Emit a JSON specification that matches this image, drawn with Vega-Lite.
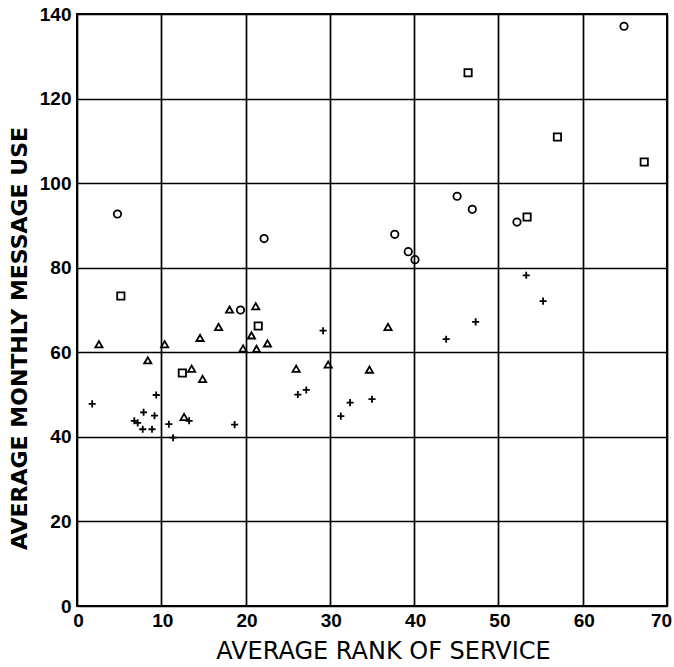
{
  "$schema": "https://vega.github.io/schema/vega-lite/v6.json",
  "width": 590,
  "height": 592,
  "autosize": {"type": "none"},
  "padding": {"left": 77, "top": 14, "right": 7, "bottom": 61},
  "background": "white",
  "config": {
    "view": {"stroke": "black", "strokeWidth": 2},
    "axis": {
      "gridColor": "black",
      "gridWidth": 1.7,
      "gridOpacity": 1,
      "ticks": false,
      "domain": false,
      "labelColor": "black",
      "titleColor": "black"
    }
  },
  "data": {
    "values": [
      {"rank": 4.8, "use": 92.7, "type": "circle"},
      {"rank": 22.2, "use": 86.9, "type": "circle"},
      {"rank": 19.4, "use": 70.0, "type": "circle"},
      {"rank": 37.7, "use": 87.9, "type": "circle"},
      {"rank": 39.3, "use": 83.8, "type": "circle"},
      {"rank": 40.1, "use": 81.9, "type": "circle"},
      {"rank": 45.1, "use": 96.9, "type": "circle"},
      {"rank": 46.9, "use": 93.8, "type": "circle"},
      {"rank": 52.2, "use": 90.8, "type": "circle"},
      {"rank": 64.9, "use": 137.1, "type": "circle"},
      {"rank": 5.2, "use": 73.3, "type": "square"},
      {"rank": 12.5, "use": 55.1, "type": "square"},
      {"rank": 21.5, "use": 66.2, "type": "square"},
      {"rank": 46.4, "use": 126.1, "type": "square"},
      {"rank": 53.4, "use": 92.0, "type": "square"},
      {"rank": 57.0, "use": 110.9, "type": "square"},
      {"rank": 67.3, "use": 105.0, "type": "square"},
      {"rank": 2.6, "use": 61.9, "type": "triangle"},
      {"rank": 8.4, "use": 58.1, "type": "triangle"},
      {"rank": 10.4, "use": 61.9, "type": "triangle"},
      {"rank": 12.7, "use": 44.7, "type": "triangle"},
      {"rank": 13.6, "use": 56.1, "type": "triangle"},
      {"rank": 14.6, "use": 63.4, "type": "triangle"},
      {"rank": 14.9, "use": 53.7, "type": "triangle"},
      {"rank": 16.8, "use": 66.0, "type": "triangle"},
      {"rank": 18.1, "use": 70.1, "type": "triangle"},
      {"rank": 19.7, "use": 60.9, "type": "triangle"},
      {"rank": 20.7, "use": 64.0, "type": "triangle"},
      {"rank": 21.2, "use": 70.9, "type": "triangle"},
      {"rank": 21.3, "use": 60.8, "type": "triangle"},
      {"rank": 22.6, "use": 62.1, "type": "triangle"},
      {"rank": 26.0, "use": 56.1, "type": "triangle"},
      {"rank": 29.8, "use": 57.1, "type": "triangle"},
      {"rank": 34.7, "use": 55.9, "type": "triangle"},
      {"rank": 36.9, "use": 66.0, "type": "triangle"},
      {"rank": 1.8, "use": 47.8, "type": "cross"},
      {"rank": 6.8, "use": 43.8, "type": "cross"},
      {"rank": 7.2, "use": 43.3, "type": "cross"},
      {"rank": 7.8, "use": 41.8, "type": "cross"},
      {"rank": 7.9, "use": 45.8, "type": "cross"},
      {"rank": 8.9, "use": 41.8, "type": "cross"},
      {"rank": 9.2, "use": 45.0, "type": "cross"},
      {"rank": 9.4, "use": 49.9, "type": "cross"},
      {"rank": 10.9, "use": 43.0, "type": "cross"},
      {"rank": 11.4, "use": 39.8, "type": "cross"},
      {"rank": 13.3, "use": 43.8, "type": "cross"},
      {"rank": 18.7, "use": 42.9, "type": "cross"},
      {"rank": 26.2, "use": 50.0, "type": "cross"},
      {"rank": 27.2, "use": 51.1, "type": "cross"},
      {"rank": 29.2, "use": 65.1, "type": "cross"},
      {"rank": 31.3, "use": 44.9, "type": "cross"},
      {"rank": 32.4, "use": 48.1, "type": "cross"},
      {"rank": 35.0, "use": 48.9, "type": "cross"},
      {"rank": 43.8, "use": 63.1, "type": "cross"},
      {"rank": 47.3, "use": 67.2, "type": "cross"},
      {"rank": 53.3, "use": 78.2, "type": "cross"},
      {"rank": 55.3, "use": 72.1, "type": "cross"}
    ]
  },
  "mark": {"type": "point", "filled": false, "strokeWidth": 1.8, "color": "black", "opacity": 1},
  "encoding": {
    "x": {
      "field": "rank",
      "type": "quantitative",
      "scale": {"domain": [0, 70], "nice": false, "zero": true},
      "axis": {
        "values": [0, 10, 20, 30, 40, 50, 60, 70],
        "title": "AVERAGE RANK OF SERVICE",
        "titleFont": "DejaVu Sans",
        "titleFontSize": 24,
        "titleFontWeight": "normal",
        "titleX": 306,
        "titleY": 52,
        "titleBaseline": "alphabetic",
        "titleAnchor": "middle",
        "labelFont": "Liberation Sans",
        "labelFontSize": 19,
        "labelFontWeight": "bold",
        "labelPadding": 5,
        "labelFlush": false,
        "labelOffset": {"condition": {"test": "datum.value === 70", "value": -6}, "value": 1}
      }
    },
    "y": {
      "field": "use",
      "type": "quantitative",
      "scale": {"domain": [0, 140], "nice": false},
      "axis": {
        "values": [0, 20, 40, 60, 80, 100, 120, 140],
        "title": "AVERAGE MONTHLY MESSAGE USE",
        "titleFont": "DejaVu Sans",
        "titleFontSize": 22,
        "titleFontWeight": "bold",
        "titleX": -51,
        "titleY": 324,
        "titleBaseline": "alphabetic",
        "titleAnchor": "middle",
        "labelFont": "Liberation Sans",
        "labelFontSize": 19,
        "labelFontWeight": "bold",
        "labelPadding": 6,
        "labelFlush": false
      }
    },
    "shape": {
      "field": "type",
      "type": "nominal",
      "scale": {
        "domain": ["circle", "square", "triangle", "cross"],
        "range": ["circle", "square", "triangle-up", "M-1,0H1M0,-1V1"]
      },
      "legend": null
    },
    "size": {
      "field": "type",
      "type": "nominal",
      "scale": {
        "domain": ["circle", "square", "triangle", "cross"],
        "range": [55, 50, 75, 110]
      },
      "legend": null
    }
  }
}
